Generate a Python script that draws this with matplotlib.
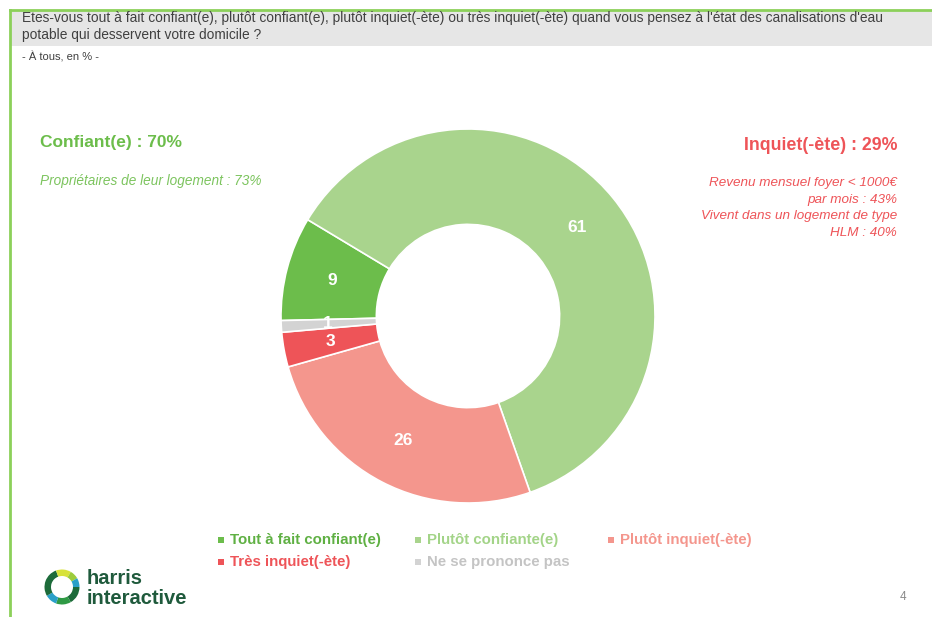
import matplotlib
matplotlib.use("Agg")
import matplotlib.pyplot as plt
import numpy as np
from matplotlib.patches import Rectangle, Wedge
from matplotlib.lines import Line2D

plt.rcParams["font.family"] = ["Liberation Sans", "DejaVu Sans"]

# data
categories = ["Tout à fait confiant(e)", "Plutôt confiante(e)", "Plutôt inquiet(-ète)",
              "Très inquiet(-ète)", "Ne se prononce pas"]
values = [9, 61, 26, 3, 1]
colors = ["#6cbd4b", "#a9d48d", "#f4968d", "#ee5458", "#d3d3d3"]
legend_text_colors = ["#5fb043", "#a3d488", "#f4968d", "#ee5458", "#c4c4c4"]

question_lines = ["Etes-vous tout à fait confiant(e), plutôt confiant(e), plutôt inquiet(-ète) ou très "
                  "inquiet(-ète) quand vous pensez à l'état des canalisations d'eau",
                  "potable qui desservent votre domicile ?"]
base_note = "- À tous, en % -"
left_title = "Confiant(e) : 70%"
left_note = "Propriétaires de leur logement : 73%"
right_title = "Inquiet(-ète) : 29%"
right_notes = ["Revenu mensuel foyer < 1000€", "par mois : 43%",
               "Vivent dans un logement de type", "HLM : 40%"]

W, H = 932, 617
fig = plt.figure(figsize=(W / 100, H / 100), dpi=100)

# overlay in pixel coordinates
bg = fig.add_axes([0, 0, 1, 1])
bg.set_xlim(0, W)
bg.set_ylim(H, 0)
bg.axis("off")

green = "#8cd05a"
bg.add_patch(Rectangle((11, 11), W - 11, 35, facecolor="#e6e6e6", edgecolor="none"))
bg.add_line(Line2D([10, W], [10, 10], color=green, lw=2))
bg.add_line(Line2D([10, 10], [10, H], color=green, lw=2))

for i, line in enumerate(question_lines):
    bg.text(22, 18 + i * 17.5, line, fontsize=9.9, color="#404040", va="center")
bg.text(22, 57, base_note, fontsize=8, color="#404040", va="center")

bg.text(40, 143, left_title, fontsize=12.5, fontweight="bold", color="#6cbd4b", va="center")
bg.text(40, 181, left_note, fontsize=9.8, style="italic", color="#7cc45e", va="center")

bg.text(897, 145, right_title, fontsize=12.8, fontweight="bold", color="#ee5458",
        va="center", ha="right")
for i, line in enumerate(right_notes):
    bg.text(897, 183 + i * 16.7, line, fontsize=9.7, style="italic", color="#ee5458",
            va="center", ha="right")

# legend
leg_x = [221, 418, 611, 221, 418]
leg_y = [540, 540, 540, 562, 562]
for cat, col, tcol, x, y in zip(categories, colors, legend_text_colors, leg_x, leg_y):
    bg.add_patch(Rectangle((x - 3, y - 3), 6, 6, facecolor=col, edgecolor="none"))
    bg.text(x + 9, y, cat, fontsize=10.8, fontweight="bold", color=tcol, va="center")

# logo
cx, cy = 62, 587
ring = [(0, 60, "#1d6b3a"), (60, 110, "#2f9a45"), (110, 150, "#2aa0c8"),
        (150, 250, "#1d6b3a"), (250, 300, "#d8e23a"), (300, 330, "#9ccc3c"),
        (330, 360, "#2aa0c8")]
for a0, a1, col in ring:
    bg.add_patch(Wedge((cx, cy), 17.5, a0, a1, width=6.5, facecolor=col, edgecolor="none"))
bg.text(87, 578, "harris", fontsize=14.5, fontweight="bold", color="#1f5a3c", va="center")
bg.text(87, 598, "interactive", fontsize=14.5, fontweight="bold", color="#1f5a3c", va="center")

bg.text(903, 597, "4", fontsize=8.5, color="#8a8a8a", ha="center", va="center")

# donut
r_px = 187
ax = fig.add_axes([(468 - r_px) / W, (H - 316 - r_px) / H, 2 * r_px / W, 2 * r_px / H])
wedges, _ = ax.pie(values, colors=colors, startangle=181.4, counterclock=False, radius=1,
                   wedgeprops=dict(width=0.51, edgecolor="white", linewidth=1.2))
ax.set_xlim(-1, 1)
ax.set_ylim(-1, 1)
ax.set_aspect("equal")
ax.axis("off")

label_r = 0.75
for w, v in zip(wedges, values):
    mid = np.deg2rad((w.theta1 + w.theta2) / 2)
    ax.text(label_r * np.cos(mid), label_r * np.sin(mid), str(v), color="white",
            fontsize=12.5, fontweight="bold", ha="center", va="center")

fig.savefig("out.png", dpi=100)
